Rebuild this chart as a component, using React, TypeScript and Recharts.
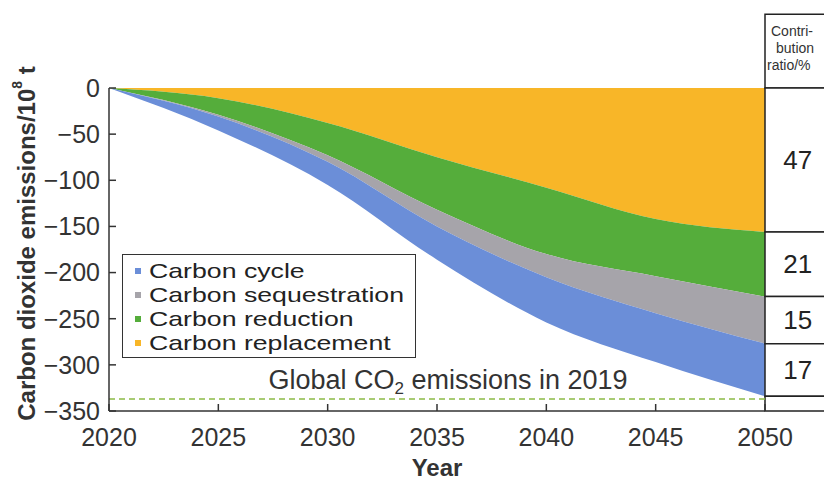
import React from 'react';
import { AreaChart, Area, XAxis, YAxis, ReferenceLine, ReferenceArea } from 'recharts';

const FONT = '"Liberation Sans", Arial, sans-serif';

// years on the x axis
const years = [2020, 2025, 2030, 2035, 2040, 2045, 2050];
// layer thickness per year (10^8 t), stacked downwards from 0
const replacement = [0, -11, -38, -75, -108, -142, -156];
const reduction = [0, -18, -35, -57, -72, -62, -70];
const sequestration = [0, -2, -7, -18, -25, -40, -51];
const cycle = [0, -15, -25, -36, -49, -53, -57];

const yTicks = [0, -50, -100, -150, -200, -250, -300, -350];
const globalCO2_2019 = -337;
const shares = ['47', '21', '15', '17'];

const series = [
  { key: 'replacement', name: 'Carbon replacement', color: '#f8b628', values: replacement },
  { key: 'reduction', name: 'Carbon reduction', color: '#55ad3b', values: reduction },
  { key: 'sequestration', name: 'Carbon sequestration', color: '#a6a4aa', values: sequestration },
  { key: 'cycle', name: 'Carbon cycle', color: '#6b8ed8', values: cycle },
];

const legendOrder = ['cycle', 'sequestration', 'reduction', 'replacement'];

const data = years.map((year, i) => {
  const row: Record<string, number> = { year };
  series.forEach((s) => (row[s.key] = s.values[i]));
  return row;
});

// table row borders from the 2050 stack
const last = years.length - 1;
const bounds = [0];
series.forEach((s) => bounds.push(bounds[bounds.length - 1] + s.values[last]));

const tableX1 = 2050;
const tableX2 = 2053;

const fmt = (v: number) => String(v).replace('-', '\u2212');

const HeaderLabel = (props: any) => {
  const { x, y } = props.viewBox;
  return (
    <text fontSize={14} fill="#333" fontFamily={FONT}>
      <tspan x={x + 6} y={y + 22}>Contri-</tspan>
      <tspan x={x + 11} y={y + 39}>bution</tspan>
      <tspan x={x + 2} y={y + 56}>ratio/%</tspan>
    </text>
  );
};

const GlobalLabel = (props: any) => {
  const { x, y, width } = props.viewBox;
  return (
    <text x={x + width / 2 + 11} y={y - 10} textAnchor="middle" fontSize={27} fill="#333" fontFamily={FONT}>
      Global CO
      <tspan fontSize={17} dy={5}>2</tspan>
      <tspan dy={-5}> emissions in 2019</tspan>
    </text>
  );
};

const YTitle = (props: any) => {
  const { x, y, height } = props.viewBox;
  const cx = x + 26;
  const cy = y + height / 2 - 6;
  return (
    <text
      x={cx}
      y={cy}
      transform={`rotate(-90, ${cx}, ${cy})`}
      textAnchor="middle"
      dominantBaseline="central"
      fontSize={24}
      fontWeight="bold"
      fill="#333"
      fontFamily={FONT}
    >
      Carbon dioxide emissions/10
      <tspan fontSize={14} dy={-9}>8</tspan>
      <tspan dy={9}> t</tspan>
    </text>
  );
};

export default function App() {
  return (
    <div style={{ position: 'absolute', left: 0, top: 0, width: 824, height: 480, background: '#fff' }}>
      <AreaChart width={824} height={480} data={data} margin={{ top: 88, right: 59, bottom: 0, left: 0 }}>
        <XAxis
          dataKey="year"
          type="number"
          domain={[2020, 2050]}
          ticks={years}
          height={69}
          tickSize={-7}
          tickMargin={24}
          axisLine={{ stroke: '#333', strokeWidth: 1.5 }}
          tickLine={{ stroke: '#333', strokeWidth: 1.5 }}
          tick={{ fill: '#333', fontSize: 25, fontFamily: FONT }}
          label={{ value: 'Year', position: 'insideBottom', offset: 4, fontSize: 24, fontWeight: 'bold', fill: '#333', fontFamily: FONT }}
        />
        <YAxis
          type="number"
          domain={[-350, 0]}
          ticks={yTicks}
          width={109}
          tickSize={-7}
          tickMargin={16}
          tickFormatter={fmt}
          axisLine={{ stroke: '#333', strokeWidth: 1.5 }}
          tickLine={{ stroke: '#333', strokeWidth: 1.5 }}
          tick={{ fill: '#333', fontSize: 25, fontFamily: FONT }}
          label={(p: any) => <YTitle {...p} />}
        />
        {series.map((s) => (
          <Area
            key={s.key}
            dataKey={s.key}
            name={s.name}
            stackId="a"
            type="monotone"
            stroke="none"
            fill={s.color}
            fillOpacity={1}
            isAnimationActive={false}
          />
        ))}
        <ReferenceLine
          y={globalCO2_2019}
          stroke="#8cbb45"
          strokeWidth={1.5}
          strokeDasharray="6 4"
          label={(p: any) => <GlobalLabel {...p} />}
        />
        <ReferenceArea
          x1={tableX1}
          x2={tableX2}
          y1={0}
          y2={80}
          ifOverflow="visible"
          fill="#fff"
          fillOpacity={1}
          stroke="#222"
          strokeWidth={1.5}
          label={(p: any) => <HeaderLabel {...p} />}
        />
        {shares.map((share, i) => (
          <ReferenceArea
            key={share + i}
            x1={tableX1}
            x2={tableX2}
            y1={bounds[i]}
            y2={bounds[i + 1]}
            ifOverflow="visible"
            fill="#fff"
            fillOpacity={1}
            stroke="#222"
            strokeWidth={1.5}
            label={{ value: share, position: 'center', fontSize: 26, fill: '#222', fontFamily: FONT }}
          />
        ))}
        <ReferenceArea
          x1={tableX1}
          x2={tableX2}
          y1={bounds[bounds.length - 1]}
          y2={-350}
          ifOverflow="visible"
          fill="#fff"
          fillOpacity={1}
          stroke="#222"
          strokeWidth={1.5}
        />
      </AreaChart>
      <div
        style={{
          position: 'absolute',
          left: 122,
          top: 254,
          width: 294,
          height: 104,
          boxSizing: 'border-box',
          border: '1.5px solid #333',
          paddingTop: 4,
          fontFamily: FONT,
          fontSize: 21,
          lineHeight: '24px',
          color: '#222',
          background: '#fff',
        }}
      >
        {legendOrder.map((k) => {
          const s = series.find((x) => x.key === k)!;
          return (
            <div key={k} style={{ display: 'flex', alignItems: 'center', height: 24, whiteSpace: 'nowrap' }}>
              <span style={{ display: 'inline-block', width: 6, height: 6, background: s.color, marginLeft: 12, marginRight: 8 }} />
              <span style={{ display: 'inline-block', transform: 'scaleX(1.27)', transformOrigin: 'left center' }}>{s.name}</span>
            </div>
          );
        })}
      </div>
    </div>
  );
}
